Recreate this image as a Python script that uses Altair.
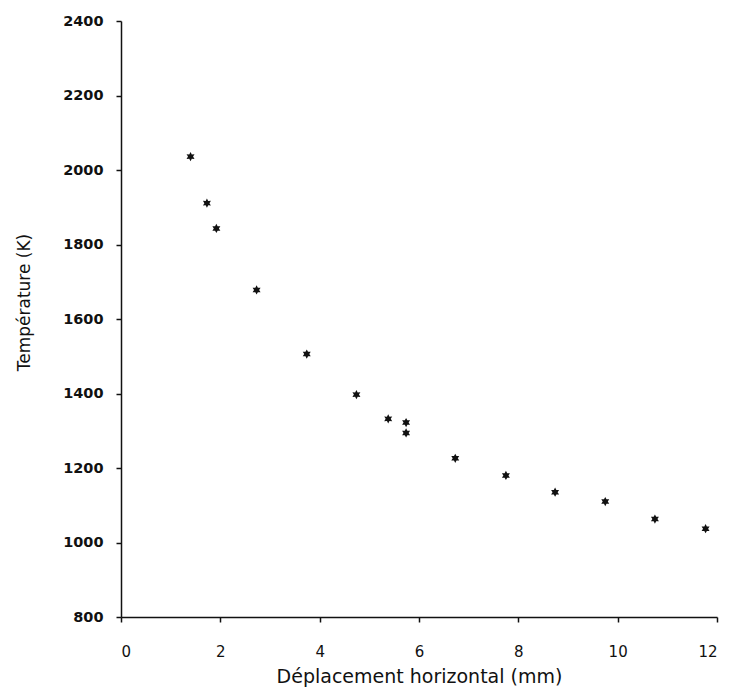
import altair as alt
import pandas as pd

# Horizontal displacement (mm) and measured temperature (K)
displacement_mm = [1.40, 1.73, 1.92, 2.73, 3.74, 4.74, 5.38, 5.74, 5.74,
                   6.73, 7.75, 8.74, 9.75, 10.75, 11.77]
temperature_k = [2036, 1911, 1843, 1678, 1506, 1397, 1332, 1322, 1294,
                 1226, 1180, 1135, 1110, 1063, 1037]

x_ticks = [0, 2, 4, 6, 8, 10, 12]
y_ticks = [800, 1000, 1200, 1400, 1600, 1800, 2000, 2200, 2400]

df = pd.DataFrame({"x": displacement_mm, "y": temperature_k})

# small filled six-point star used as the plotting symbol
STAR = ("M0,-1 L0.275,-0.476 L0.866,-0.5 L0.55,0 L0.866,0.5 L0.275,0.476 "
        "L0,1 L-0.275,0.476 L-0.866,0.5 L-0.55,0 L-0.866,-0.5 L-0.275,-0.476 Z")

FONT = "DejaVu Sans"
INK = "#111111"

common_axis = dict(
    grid=False,
    tickSize=5,
    tickWidth=1.5,
    tickColor=INK,
    domainColor=INK,
    domainWidth=1.5,
    labelFont=FONT,
    labelColor=INK,
    titleFont=FONT,
    titleFontWeight="normal",
    titleColor=INK,
    format="d",
)

chart = (
    alt.Chart(df)
    .mark_point(shape=STAR, filled=True, size=85, color=INK, opacity=1)
    .encode(
        x=alt.X(
            "x:Q",
            scale=alt.Scale(domain=[0, 12], nice=False, zero=False),
            axis=alt.Axis(
                title="Déplacement horizontal (mm)",
                values=x_ticks,
                labelFontSize=15,
                labelPadding=22,
                titleFontSize=19,
                titlePadding=8,
                **common_axis,
            ),
        ),
        y=alt.Y(
            "y:Q",
            scale=alt.Scale(domain=[800, 2400], nice=False, zero=False),
            axis=alt.Axis(
                title="Température (K)",
                values=y_ticks,
                labelFontSize=14.5,
                labelFontWeight="bold",
                labelPadding=13,
                titleFontSize=17,
                titleX=-97,
                titleY=281,
                titleBaseline="middle",
                titleAlign="center",
                **common_axis,
            ),
        ),
    )
    .properties(
        width=596,
        height=596,
        background="white",
        autosize=alt.AutoSizeParams(type="none"),
        padding={"left": 121, "top": 21, "right": 20, "bottom": 80},
    )
    .configure_view(stroke=None)
)

chart.save("out.html", embed_options={"renderer": "svg", "actions": False})
